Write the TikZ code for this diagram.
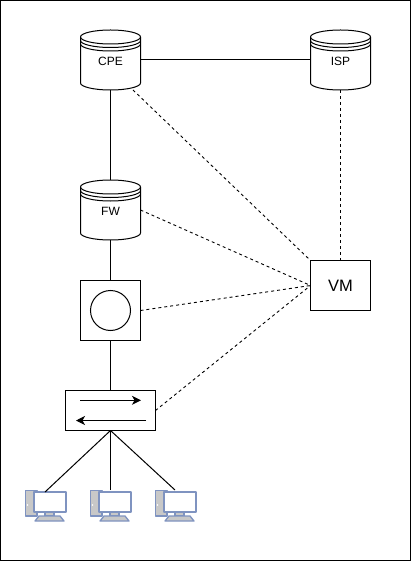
\documentclass[tikz,border=0pt]{standalone}
\usepackage{fontspec}
\setmainfont{Liberation Sans}
\usetikzlibrary{arrows.meta}
\definecolor{pcline}{HTML}{7F93C0}
\definecolor{pcgrey}{HTML}{C8C8C8}
\tikzset{
  every node/.style={inner sep=0pt,outer sep=0pt},
  ln/.style={draw=black,line width=1pt},
  dsh/.style={draw=black,line width=0.9pt,dash pattern=on 3pt off 3pt},
  cylbox/.style={minimum width=60pt,minimum height=60pt},
  lab/.style={font=\fontsize{12}{14}\selectfont},
  pcs/.style={draw=pcline,line width=1.3pt,line join=round},
  flow/.style={line width=1pt,-{Stealth[length=9pt,width=9pt,inset=2.5pt]}},
}
\newcommand{\cylshape}[4]{% name, cx, top y, label
  \node[cylbox] (#1) at (#2,#3+30) {};
  \draw[ln,fill=white] (#2-30,#3+7) arc[start angle=180,end angle=360,x radius=30,y radius=7]
     -- (#2+30,#3+53) arc[start angle=0,end angle=180,x radius=30,y radius=7] -- cycle;
  \draw[ln] (#2-30,#3+7) arc[start angle=180,end angle=0,x radius=30,y radius=7];
  \draw[ln] (#2-30,#3+10.5) arc[start angle=180,end angle=0,x radius=30,y radius=7];
  \draw[ln] (#2-30,#3+14) arc[start angle=180,end angle=0,x radius=30,y radius=7];
  \node[lab] (#1l) at (#2,#3+31) {#4};
}
\newcommand{\pcshape}[2]{% x-left, y-top
  \begin{scope}[shift={(#1,#2)}]
    \draw[pcs,fill=pcgrey] (0.5,0.5) rectangle (12,26);
    \draw[pcs,fill=pcgrey] (20,22) rectangle (29,26);
    \draw[pcs,fill=pcgrey] (14,26) -- (35,26) -- (39,31) -- (10,31) -- cycle;
    \draw[pcs,fill=white] (9,2) rectangle (41,22);
    \fill[white] (2.5,15) circle (0.8);
  \end{scope}
}
\begin{document}
\begin{tikzpicture}[x=1pt,y=-1pt]
\useasboundingbox (0,0) rectangle (411,561);
\draw[black,line width=1pt] (0.5,0.5) rectangle (410.5,560.5);

\cylshape{cpe}{110.5}{30}{CPE}
\cylshape{isp}{340.5}{30}{ISP}
\cylshape{fw}{110.5}{180}{FW}

\node[ln,minimum width=60pt,minimum height=60pt] (sq) at (110.5,310.5) {};
\node[ln,circle,minimum size=40pt] (ring) at (110.5,310.5) {};
\node[ln,minimum width=90pt,minimum height=40pt] (sw) at (110.5,410.5) {};
\node[ln,minimum width=60pt,minimum height=50pt,font=\fontsize{16.5}{19}\selectfont] (vm) at (340.5,285.5) {VM};

\coordinate (a1) at (80,400.3);
\coordinate (a2) at (141,400.3);
\coordinate (b1) at (146,420.5);
\coordinate (b2) at (76,420.5);
\draw[flow] (a1) -- (a2);
\draw[flow] (b1) -- (b2);

\pcshape{25}{490}
\pcshape{90}{490}
\pcshape{155}{490}
\coordinate (pc1) at (45,492);
\coordinate (pc2) at (110.5,490);
\coordinate (pc3) at (175,490);
\coordinate (cpeb) at (133,90);

\draw[ln] (cpe.east) -- (isp.west);
\draw[ln] (cpe.south) -- (fw.north);
\draw[ln] (fw.south) -- (sq.north);
\draw[ln] (sq.south) -- (sw.north);
\draw[ln] (sw.south) -- (pc1);
\draw[ln] (sw.south) -- (pc2);
\draw[ln] (sw.south) -- (pc3);

\draw[dsh] (isp.south) -- (vm.north);
\draw[dsh] (cpeb) -- (vm.north west);
\draw[dsh] (fw.east) -- (vm.west);
\draw[dsh] (sq.east) -- (vm.west);
\draw[dsh] (sw.east) -- (vm.west);
\end{tikzpicture}
\end{document}
